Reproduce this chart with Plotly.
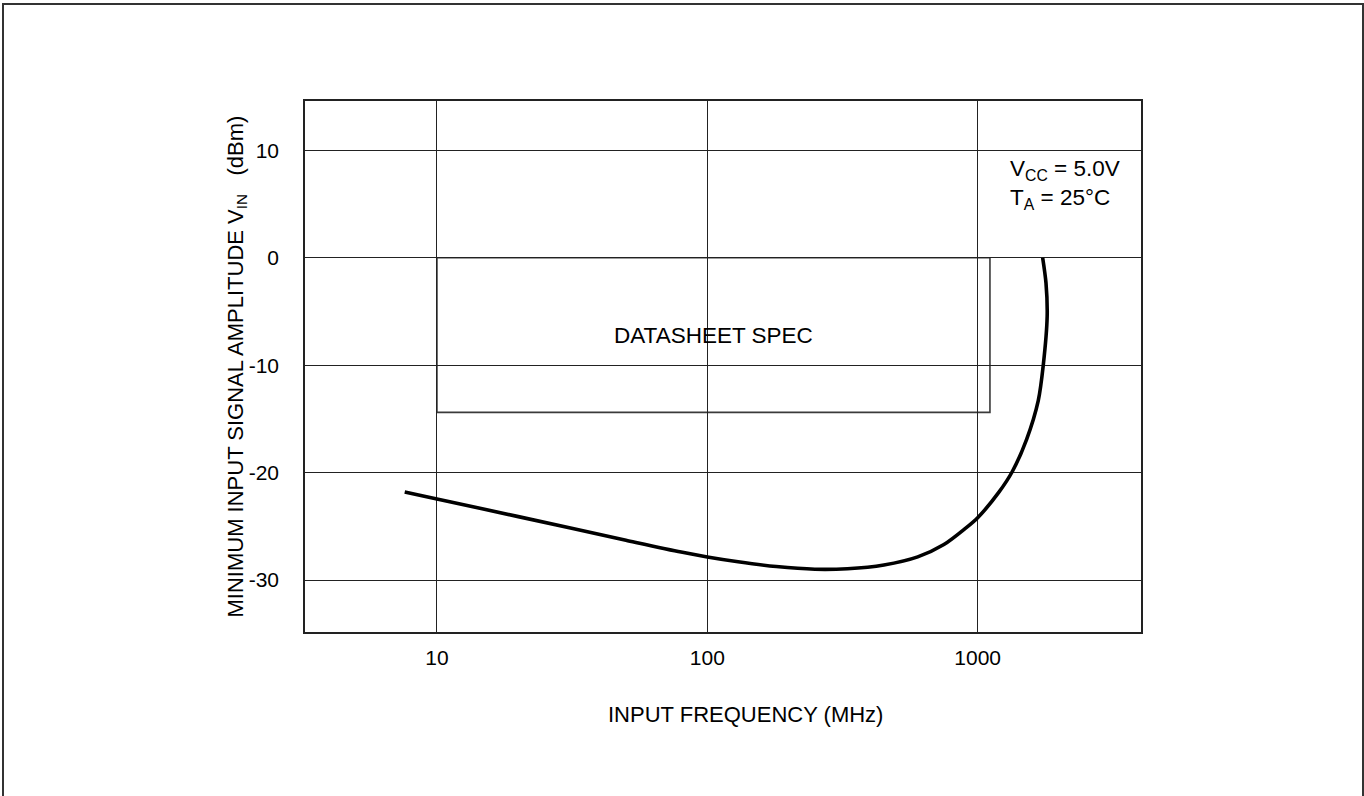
import plotly.graph_objects as go

# Data
freq_mhz = [7.6, 10, 20, 50, 80, 100, 130, 180, 250, 330, 450, 600, 750, 900, 1000,
            1200, 1343, 1517, 1675, 1748, 1807, 1789, 1739]
vin_dbm = [-21.8, -22.45, -24.1, -26.3, -27.4, -27.85, -28.3, -28.75, -29.0, -28.95, -28.6, -27.85,
           -26.7, -25.2, -24.2, -21.8, -19.9, -16.9, -13.3, -10.0, -5.45, -2.35, 0.0]

spec_freq = [10, 1110]
spec_dbm = [-14.4, 0]

x_ticks = [10, 100, 1000]
y_ticks = [-30, -20, -10, 0, 10]

FONT = "Liberation Sans, Arial, sans-serif"
FS_TICK = 21
FS_TEXT = 22.5
FS_TITLE = 22

fig = go.Figure()

fig.add_trace(go.Scatter(
    x=freq_mhz, y=vin_dbm, mode="lines",
    line=dict(color="black", width=3.6, shape="spline", smoothing=0.8),
    showlegend=False, hoverinfo="x+y",
))

# Datasheet spec box (white-filled, hides grid underneath)
fig.add_shape(type="rect", xref="x", yref="y",
              x0=spec_freq[0], x1=spec_freq[1], y0=spec_dbm[0], y1=spec_dbm[1],
              fillcolor="white", line=dict(color="#3a3a3a", width=1.6), layer="below")

fig.add_annotation(x=(1 + 3.0453) / 2, xref="x", y=-7.2, yref="y",
                   text="DATASHEET SPEC", showarrow=False,
                   font=dict(family=FONT, size=FS_TEXT, color="black"))

# Condition text
fig.add_annotation(x=3.112, xref="x", y=6.8, yref="y", xanchor="left", yanchor="middle",
                   text="V<sub>CC</sub> = 5.0V<br>T<sub>A</sub> = 25°C", showarrow=False, align="left",
                   font=dict(family=FONT, size=FS_TEXT, color="black"))

# Axis titles as annotations
fig.add_annotation(x=(236 - 305) / 836, xref="paper", y=0.5, yref="paper",
                   xanchor="center", yanchor="middle",
                   text="MINIMUM INPUT SIGNAL AMPLITUDE V<sub>IN</sub>   (dBm)",
                   textangle=-90, showarrow=False,
                   font=dict(family=FONT, size=FS_TITLE, color="black"))
fig.add_annotation(x=(745 - 305) / 836, xref="paper", y=(632 - 714) / 531, yref="paper",
                   xanchor="center", yanchor="middle",
                   text="INPUT FREQUENCY (MHz)", showarrow=False,
                   font=dict(family=FONT, size=FS_TITLE, color="black"))

# Outer page border
fig.add_shape(type="rect", xref="paper", yref="paper",
              x0=(3 - 305) / 836, x1=(1363 - 305) / 836,
              y0=(632 - 800) / 531, y1=(632 - 4) / 531,
              line=dict(color="#333333", width=2), fillcolor="rgba(0,0,0,0)")

fig.update_xaxes(type="log", range=[0.512, 3.604], tickvals=x_ticks, ticktext=[str(v) for v in x_ticks],
                 showgrid=True, gridcolor="#222222", gridwidth=1,
                 showline=True, linecolor="#222222", linewidth=1.5, mirror=True,
                 ticks="", ticklabelstandoff=6, zeroline=False,
                 tickfont=dict(family=FONT, size=FS_TICK, color="black"))
fig.update_yaxes(range=[-34.84, 14.59], tickvals=y_ticks, ticktext=[str(v) for v in y_ticks],
                 showgrid=True, gridcolor="#222222", gridwidth=1,
                 showline=True, linecolor="#222222", linewidth=1.5, mirror=True,
                 ticks="", ticklabelstandoff=20, zeroline=False,
                 tickfont=dict(family=FONT, size=FS_TICK, color="black"))

fig.update_layout(
    width=1364, height=796,
    margin=dict(l=305, r=223, t=101, b=164),
    paper_bgcolor="white", plot_bgcolor="white",
    font=dict(family=FONT, size=FS_TICK, color="black"),
)

fig.write_html("out.html", config={"displayModeBar": False},
               post_script="document.body.style.margin='0px';document.body.style.overflow='hidden';")
